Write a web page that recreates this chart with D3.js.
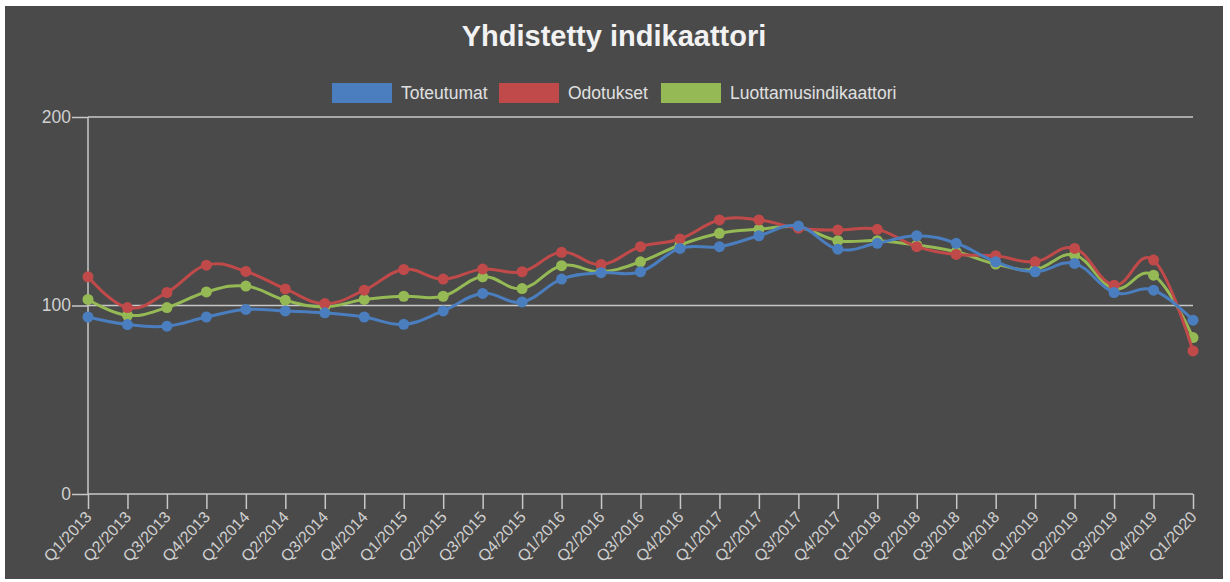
<!DOCTYPE html>
<html>
<head>
<meta charset="utf-8">
<script src="https://cdn.jsdelivr.net/npm/d3@7"></script>
<style>
  html, body { margin: 0; padding: 0; background: #ffffff; }
  svg { display: block; font-family: "Liberation Sans", Arial, sans-serif; }
</style>
</head>
<body>
<div id="chart"></div>
<script>
var quarters = ["Q1/2013", "Q2/2013", "Q3/2013", "Q4/2013", "Q1/2014", "Q2/2014", "Q3/2014", "Q4/2014",
    "Q1/2015", "Q2/2015", "Q3/2015", "Q4/2015", "Q1/2016", "Q2/2016", "Q3/2016", "Q4/2016",
    "Q1/2017", "Q2/2017", "Q3/2017", "Q4/2017", "Q1/2018", "Q2/2018", "Q3/2018", "Q4/2018",
    "Q1/2019", "Q2/2019", "Q3/2019", "Q4/2019", "Q1/2020"];

var toteutumat = [93.9, 89.9, 89.0, 93.9, 97.9, 97.1, 96.1, 93.9, 90.0, 97.1, 106.4, 101.9, 114.0, 117.4,
    117.9, 130.3, 131.2, 137.0, 142.2, 129.9, 133.0, 137.0, 133.0, 123.2, 117.9, 122.3, 106.9, 108.1, 92.2];
var odotukset = [115.2, 98.9, 106.9, 121.4, 118.1, 108.8, 101.0, 108.1, 119.1, 114.0, 119.3, 117.9, 128.2, 121.8,
    131.2, 135.3, 145.4, 145.4, 141.0, 140.0, 140.4, 131.2, 127.1, 126.4, 123.2, 130.3, 110.8, 124.1, 75.9];
var luottamus = [103.2, 94.8, 98.9, 107.2, 110.3, 102.8, 99.3, 103.2, 104.9, 104.9, 115.2, 109.0, 121.1, 117.9,
    123.2, 132.1, 138.3, 140.4, 141.5, 134.4, 134.4, 132.1, 128.5, 122.0, 119.1, 126.8, 109.0, 116.1, 83.0];

var seriesNames = ["Toteutumat", "Odotukset", "Luottamusindikaattori"];
var seriesColors = ["#4a7ebf", "#c04a4a", "#95b954"];
var yTicks = [0, 100, 200];
var title = "Yhdistetty indikaattori";

var width = 1230, height = 582;
var plot = { left: 88, right: 1193, top: 117, bottom: 494 };

var svg = d3.select("#chart").append("svg")
    .attr("width", width)
    .attr("height", height);

// dark panel
svg.append("rect")
    .attr("x", 5).attr("y", 6)
    .attr("width", 1218).attr("height", 573)
    .attr("fill", "#4a4a4a");

var x = d3.scalePoint().domain(quarters).range([plot.left, plot.right]);
var y = d3.scaleLinear().domain([0, 200]).range([plot.bottom, plot.top]);

svg.append("text")
    .attr("x", 614).attr("y", 46)
    .attr("text-anchor", "middle")
    .attr("fill", "#f2f2f2")
    .style("font-size", "29px")
    .style("font-weight", "bold")
    .text(title);

// legend
var legendX = [332, 499, 661];
var legend = svg.append("g");
seriesNames.forEach(function (name, i) {
    legend.append("rect")
        .attr("x", legendX[i]).attr("y", 83)
        .attr("width", 60).attr("height", 20)
        .attr("fill", seriesColors[i]);
    legend.append("text")
        .attr("x", legendX[i] + 69).attr("y", 98.5)
        .attr("fill", "#e0e0e0")
        .style("font-size", "17.5px")
        .text(name);
});

// y axis + grid
var yAxis = d3.axisLeft(y).tickValues(yTicks).tickSize(16).tickPadding(1);
var gy = svg.append("g")
    .attr("transform", "translate(" + plot.left + ",0)")
    .call(yAxis);
gy.select(".domain").remove();
gy.selectAll("line").attr("stroke", "#c8c8c8").attr("stroke-width", 1.5);
gy.selectAll("text").attr("fill", "#d0d0d0").style("font-size", "17.5px")
    .attr("dy", "0.3em");

svg.append("g").selectAll("line")
    .data(yTicks)
    .join("line")
    .attr("x1", plot.left).attr("x2", plot.right)
    .attr("y1", function (d) { return y(d); })
    .attr("y2", function (d) { return y(d); })
    .attr("stroke", "#c8c8c8")
    .attr("stroke-width", 1.5);

svg.append("line")
    .attr("x1", plot.left).attr("x2", plot.left)
    .attr("y1", plot.top).attr("y2", plot.bottom)
    .attr("stroke", "#c8c8c8").attr("stroke-width", 1.5);

// x axis
var xAxis = d3.axisBottom(x).tickSize(15).tickPadding(0);
var gx = svg.append("g")
    .attr("transform", "translate(0," + plot.bottom + ")")
    .call(xAxis);
gx.select(".domain").remove();
gx.selectAll("line").attr("stroke", "#c8c8c8").attr("stroke-width", 1.5);
gx.selectAll("text")
    .attr("fill", "#d0d0d0")
    .style("font-size", "16px")
    .attr("text-anchor", "end")
    .attr("y", 0)
    .attr("dy", "0.35em")
    .attr("transform", "translate(0,20) rotate(-47)");

// series, drawn last-to-first so the first one sits on top
var allSeries = [toteutumat, odotukset, luottamus];
var line = d3.line()
    .x(function (d, i) { return x(quarters[i]); })
    .y(function (d) { return y(d); })
    .curve(d3.curveCardinal.tension(-0.2));

for (var s = allSeries.length - 1; s >= 0; s--) {
    var g = svg.append("g");
    g.append("path")
        .datum(allSeries[s])
        .attr("d", line)
        .attr("fill", "none")
        .attr("stroke", seriesColors[s])
        .attr("stroke-width", 3);
    g.selectAll("circle")
        .data(allSeries[s])
        .join("circle")
        .attr("cx", function (d, i) { return x(quarters[i]); })
        .attr("cy", function (d) { return y(d); })
        .attr("r", 5.5)
        .attr("fill", seriesColors[s]);
}
</script>
</body>
</html>
